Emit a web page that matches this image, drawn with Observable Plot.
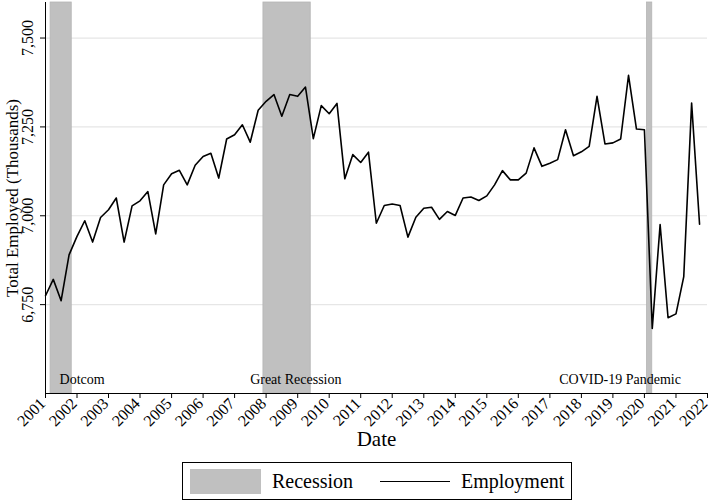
<!DOCTYPE html>
<html>
<head>
<meta charset="utf-8">
<script src="https://cdn.jsdelivr.net/npm/d3@7"></script>
<script src="https://cdn.jsdelivr.net/npm/@observablehq/plot@0.6"></script>
<style>
  body { margin: 0; background: #fff; font-family: "Liberation Serif", "DejaVu Serif", serif; }
  #wrap { position: relative; width: 713px; height: 504px; }
  #legend { position: absolute; left: 182px; top: 462px; width: 390px; height: 38px; border: 1.3px solid #000; box-sizing: border-box; }
  #legend .sw { position: absolute; left: 7px; top: 6px; width: 71px; height: 25px; background: #c0c0c0; }
  #legend .ln { position: absolute; left: 197px; top: 18px; width: 70px; height: 0; border-top: 1.8px solid #000; }
  #legend .t { position: absolute; top: 7px; font-size: 20px; line-height: 22px; color: #000; }
</style>
</head>
<body>
<div id="wrap">
  <div id="chart"></div>
  <div id="legend">
    <div class="sw"></div><div class="t" style="left:89px">Recession</div>
    <div class="ln"></div><div class="t" style="left:278px">Employment</div>
  </div>
</div>
<script>
// Quarterly employment (thousands), 2001 Q1 .. 2021 Q4
const startYear = 2001;
const employment = [
  6775, 6821, 6761, 6890, 6942, 6986, 6926, 6995,
  7017, 7050, 6926, 7028, 7042, 7068, 6949, 7087,
  7118, 7128, 7087, 7142, 7167, 7176, 7106, 7216,
  7228, 7256, 7207, 7297, 7322, 7341, 7280, 7341,
  7336, 7362, 7217, 7310, 7287, 7316, 7104, 7172,
  7150, 7179, 6979, 7029, 7033, 7029, 6940, 6996,
  7021, 7024, 6990, 7012, 7001, 7050, 7053, 7043,
  7056, 7087, 7127, 7101, 7101, 7120, 7191, 7139,
  7148, 7158, 7242, 7169, 7180, 7195, 7336, 7202,
  7205, 7216, 7395, 7244, 7242, 6683, 6975, 6713,
  6724, 6829, 7317, 6976
];
const recessionStart = ["2001-03-01", "2007-12-01", "2020-02-01"];
const recessionEnd   = ["2001-11-01", "2009-06-01", "2020-04-01"];
const recessionName  = ["Dotcom", "Great Recession", "COVID-19 Pandemic"];
const recessionLabelAt = ["2002-03-01", "2008-12-10", "2019-03-25"];
const yTicks = [6750, 7000, 7250, 7500];
const xTickYears = [2001, 2002, 2003, 2004, 2005, 2006, 2007, 2008, 2009, 2010, 2011,
                    2012, 2013, 2014, 2015, 2016, 2017, 2018, 2019, 2020, 2021, 2022];

const series = employment.map((v, i) => ({
  date: new Date(Date.UTC(startYear + Math.floor(i / 4), (i % 4) * 3, 1)),
  value: v
}));
const recessions = recessionStart.map((s, i) => ({
  start: new Date(s + "T00:00:00Z"),
  end: new Date(recessionEnd[i] + "T00:00:00Z"),
  name: recessionName[i],
  at: new Date(recessionLabelAt[i] + "T00:00:00Z")
}));
const xTicks = xTickYears.map(y => ({ date: new Date(Date.UTC(y, 0, 1)), label: String(y) }));

const chart = Plot.plot({
  width: 713,
  height: 450,
  marginLeft: 45,
  marginRight: 6,
  marginTop: 2,
  marginBottom: 57,
  style: { fontFamily: "Liberation Serif, serif", fontSize: "16px", color: "#000", background: "#fff", overflow: "visible" },
  x: {
    type: "utc",
    domain: [xTicks[0].date, xTicks[xTicks.length - 1].date],
    ticks: xTicks.map(d => d.date),
    tickFormat: () => "",
    tickSize: 5,
    label: "Date",
    labelArrow: "none",
    labelAnchor: "center",
    labelOffset: 52
  },
  y: {
    domain: [6500, 7600],
    ticks: yTicks,
    tickFormat: d3.format(","),
    tickRotate: -90,
    tickSize: 5,
    tickPadding: 8,
    label: "Total Employed (Thousands)",
    labelArrow: "none",
    labelAnchor: "center",
    labelOffset: 40
  },
  marks: [
    Plot.ruleY(yTicks, { stroke: "#e6e6e6", strokeWidth: 1.2 }),
    Plot.rect(recessions, { x1: "start", x2: "end", fill: "#c0c0c0", stroke: "#b4b4b4", strokeWidth: 0.8 }),
    Plot.line(series, { x: "date", y: "value", stroke: "#000", strokeWidth: 1.6 }),
    Plot.text(recessions, { x: "at", text: "name", frameAnchor: "bottom", dy: -10, fontSize: 14, fill: "#000" }),
    Plot.ruleX([xTicks[0].date], { stroke: "#000", strokeWidth: 1 }),
    Plot.ruleY([6500], { stroke: "#000", strokeWidth: 1.2 }),
    Plot.text(xTicks, { x: "date", text: "label", frameAnchor: "bottom", rotate: -45, textAnchor: "end",
                        lineAnchor: "bottom", dx: 1, dy: 11, fontSize: 16, fill: "#000", clip: false })
  ]
});
document.getElementById("chart").appendChild(chart);
chart.querySelectorAll("[aria-label='x-axis label'] text").forEach(t => { t.style.fontSize = "21px"; });
chart.querySelectorAll("[aria-label='y-axis label'] text").forEach(t => { t.style.fontSize = "17px"; });
</script>
</body>
</html>
